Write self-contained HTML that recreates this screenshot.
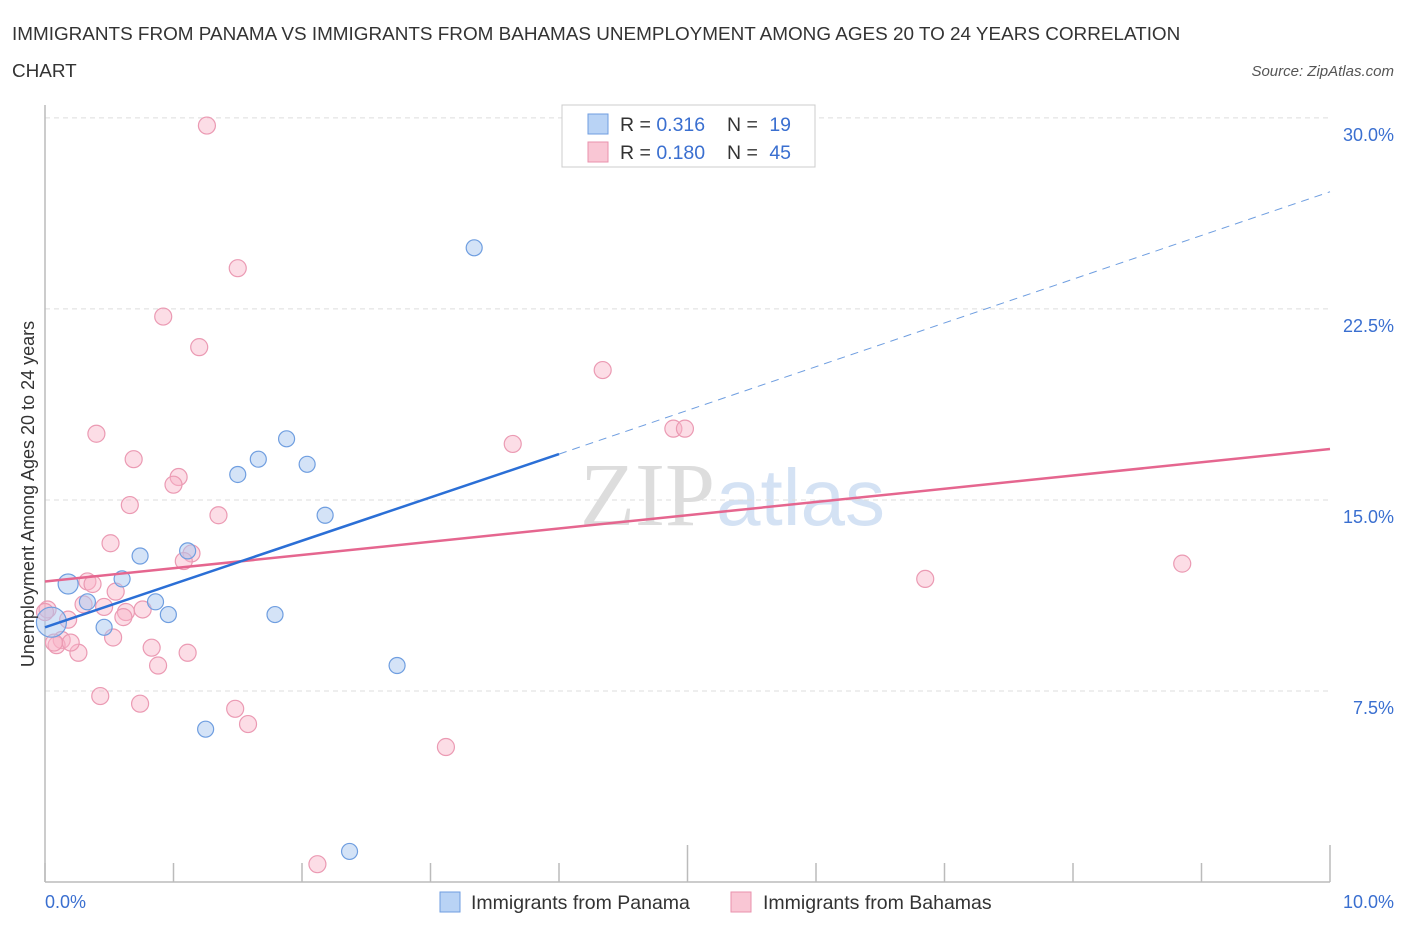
<!DOCTYPE html>
<html><head><meta charset="utf-8"><style>
body{margin:0;background:#fff;font-family:"Liberation Sans",sans-serif;}
</style></head><body>
<svg width="1406" height="930" xmlns="http://www.w3.org/2000/svg">
<text x="12" y="40" font-size="18.9" fill="#333">IMMIGRANTS FROM PANAMA VS IMMIGRANTS FROM BAHAMAS UNEMPLOYMENT AMONG AGES 20 TO 24 YEARS CORRELATION</text>
<text x="12" y="77" font-size="18.9" fill="#333">CHART</text>
<text x="1394" y="76" font-size="15" fill="#555" font-style="italic" text-anchor="end">Source: ZipAtlas.com</text>
<text x="715" y="525" font-size="90" fill="#ddd" font-family="Liberation Serif" text-anchor="end">ZIP</text>
<text x="716" y="525" font-size="80" fill="#d4e2f4">atlas</text>
<g id="grid"></g>
<g id="axes"></g>
<g id="marks"></g>
<text transform="translate(34,494) rotate(-90)" font-size="18" fill="#333" text-anchor="middle">Unemployment Among Ages 20 to 24 years</text>
<text x="45" y="908" font-size="18" fill="#3a6fd0">0.0%</text>
<text x="1394" y="908" font-size="18" fill="#3a6fd0" text-anchor="end">10.0%</text>
<g>
<rect x="562" y="105" width="253" height="62" fill="#fff" stroke="#ccc"/>
<rect x="588" y="114" width="20" height="20" fill="#b9d3f5" stroke="#6f9ee0"/>
<rect x="588" y="142" width="20" height="20" fill="#f9c6d4" stroke="#e992ad"/>
<text x="620" y="131" font-size="19.5" fill="#333">R = <tspan fill="#3a6fd0">0.316</tspan></text>
<text x="727" y="131" font-size="19.5" fill="#333">N = <tspan fill="#3a6fd0" dx="6">19</tspan></text>
<text x="620" y="159" font-size="19.5" fill="#333">R = <tspan fill="#3a6fd0">0.180</tspan></text>
<text x="727" y="159" font-size="19.5" fill="#333">N = <tspan fill="#3a6fd0" dx="6">45</tspan></text>
</g>
<g>
<rect x="440" y="892" width="20" height="20" fill="#b9d3f5" stroke="#6f9ee0"/>
<text x="471" y="909" font-size="19.5" fill="#333">Immigrants from Panama</text>
<rect x="731" y="892" width="20" height="20" fill="#f9c6d4" stroke="#e992ad"/>
<text x="763" y="909" font-size="19.5" fill="#333">Immigrants from Bahamas</text>
</g>
</svg>
<script>
const yTicks=[7.5,15,22.5,30];
const yTickLabels=["7.5%","15.0%","22.5%","30.0%"];
const xTicks=[0,1,2,3,4,5,6,7,8,9,10];
const panamaX=[0.18,0.05,0.33,0.46,0.60,0.74,0.86,0.96,1.11,1.25,1.50,1.66,1.88,2.04,2.18,1.79,2.74,3.34,2.37];
const panamaY=[11.7,10.2,11.0,10.0,11.9,12.8,11.0,10.5,13.0,6.0,16.0,16.6,17.4,16.4,14.4,10.5,8.5,24.9,1.2];
const panamaR=[10,15,8,8,8,8,8,8,8,8,8,8,8,8,8,8,8,8,8];
const bahamasX=[1.26,1.50,0.92,1.20,4.34,0.40,3.64,4.89,4.98,0.69,1.04,1.00,0.66,1.35,0.51,1.14,1.08,0.33,0.37,0.55,0.30,0.46,0.63,0.76,0.02,0.18,0.61,0.53,0.13,0.09,0.26,0.83,0.88,1.11,0.43,0.74,1.48,1.58,3.12,2.12,6.85,8.85,0.07,0.0,0.20];
const bahamasY=[29.7,24.1,22.2,21.0,20.1,17.6,17.2,17.8,17.8,16.6,15.9,15.6,14.8,14.4,13.3,12.9,12.6,11.8,11.7,11.4,10.9,10.8,10.6,10.7,10.7,10.3,10.4,9.6,9.5,9.3,9.0,9.2,8.5,9.0,7.3,7.0,6.8,6.2,5.3,0.7,11.9,12.5,9.4,10.6,9.4];
const blueLine=[[0,10.0],[4.0,16.8]];
const blueDash=[[4.0,16.8],[10,27.1]];
const pinkLine=[[0,11.8],[10,17.0]];
const X=v=>45+v*128.5, Y=v=>882-v*25.47;
const NS="http://www.w3.org/2000/svg";
function mk(t,a,p){const e=document.createElementNS(NS,t);for(const k in a)e.setAttribute(k,a[k]);document.getElementById(p).appendChild(e);return e;}
yTicks.forEach((v,i)=>{
 const l=mk('line',{x1:45,x2:1330,y1:Y(v),y2:Y(v),stroke:'#ddd','stroke-dasharray':'5,4'},'grid');
 
 
 const t=mk('text',{x:1394,y:Y(v)+23,'font-size':18,fill:'#3a6fd0','text-anchor':'end'},'grid');
 t.textContent=yTickLabels[i];
 
 
});
const ax=mk('line',{x1:45,x2:1330,y1:882,y2:882,stroke:'#bbb','stroke-width':1.5},'axes');


const ay=mk('line',{x1:45,x2:45,y1:105,y2:882,stroke:'#bbb','stroke-width':1.5},'axes');


xTicks.forEach(v=>{
 const tk=mk('line',{x1:X(v),x2:X(v),y1:(v%5==0&&v>0)?845:863,y2:882,stroke:'#bbb','stroke-width':1.5},'axes');
 
 
});
bahamasX.forEach((x,i)=>{
 const c=mk('circle',{cx:X(x),cy:Y(bahamasY[i]),r:8.5,fill:'rgba(249,180,200,0.45)',stroke:'#eb9ab3','stroke-width':1.2},'marks');
 
 
});
panamaX.forEach((x,i)=>{
 const c=mk('circle',{cx:X(x),cy:Y(panamaY[i]),r:panamaR[i],fill:'rgba(170,200,240,0.5)',stroke:'#6f9ee0','stroke-width':1.2},'marks');
 
 
});
const pl=mk('line',{x1:X(pinkLine[0][0]),y1:Y(pinkLine[0][1]),x2:X(pinkLine[1][0]),y2:Y(pinkLine[1][1]),stroke:'#e5668f','stroke-width':2.5},'marks');


const bl=mk('line',{x1:X(blueLine[0][0]),y1:Y(blueLine[0][1]),x2:X(blueLine[1][0]),y2:Y(blueLine[1][1]),stroke:'#2b6fd6','stroke-width':2.5},'marks');


const bd=mk('line',{x1:X(blueDash[0][0]),y1:Y(blueDash[0][1]),x2:X(blueDash[1][0]),y2:Y(blueDash[1][1]),stroke:'#6f9ee0','stroke-width':1,'stroke-dasharray':'8,6'},'marks');


</script>
</body></html>
